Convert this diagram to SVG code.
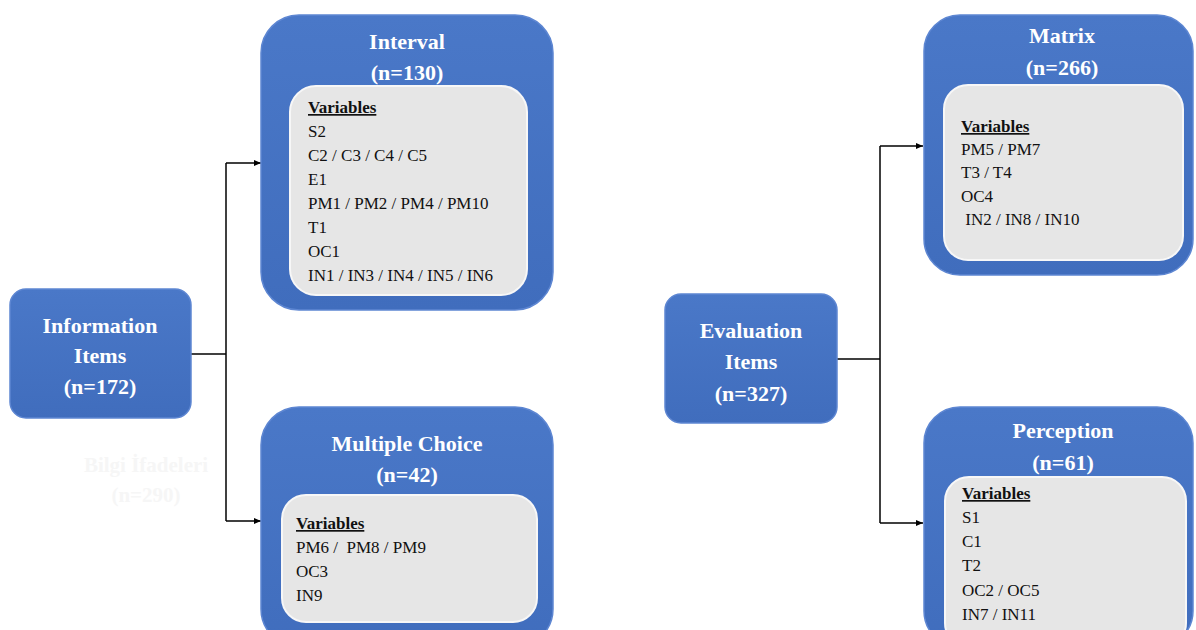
<svg xmlns="http://www.w3.org/2000/svg" width="1196" height="630" viewBox="0 0 1196 630">
  <defs>
    <marker id="arrow" markerWidth="8" markerHeight="8" refX="7" refY="4" orient="auto" markerUnits="userSpaceOnUse">
      <path d="M0,1 L7,4 L0,7 Z" fill="#000"/>
    </marker>
    <linearGradient id="blueFill" x1="0" y1="0" x2="0" y2="1">
      <stop offset="0" stop-color="#4a78c8"/>
      <stop offset="1" stop-color="#406dbd"/>
    </linearGradient>
  </defs>
  <style>
    .outer { fill: url(#blueFill); stroke: #5d86d2; stroke-width: 1.5; }
    .root { fill: url(#blueFill); stroke: #5d86d2; stroke-width: 1.5; }
    .inner { fill: #e6e6e6; stroke: #f7f7f7; stroke-width: 2; }
    .title { font-family: "Liberation Serif", "Times New Roman", serif; font-weight: bold; font-size: 22px; fill: #ffffff; text-anchor: middle; }
    .var { font-family: "Liberation Serif", "Times New Roman", serif; font-size: 17px; fill: #111111; white-space: pre; }
    .varhead { font-weight: bold; text-decoration: underline; }
    .ghost { font-family: "Liberation Serif", "Times New Roman", serif; font-weight: bold; font-size: 21px; fill: #f6f6f6; text-anchor: middle; }
    .link { fill: none; stroke: #000; stroke-width: 1.5; }
  </style>

  <rect width="1196" height="630" fill="#ffffff"/>

  <!-- connectors -->
  <g id="connectors">
    <path class="link" d="M191,354 H226"/>
    <path class="link" d="M226,163 V521"/>
    <path class="link" d="M226,163 H261" marker-end="url(#arrow)"/>
    <path class="link" d="M226,521 H261" marker-end="url(#arrow)"/>
    <path class="link" d="M837,359 H880"/>
    <path class="link" d="M880,146 V523"/>
    <path class="link" d="M880,146 H923" marker-end="url(#arrow)"/>
    <path class="link" d="M880,523 H923" marker-end="url(#arrow)"/>
  </g>

  <!-- left root -->
  <g id="information-items">
    <rect class="root" x="10" y="289" width="181" height="129" rx="16"/>
    <text class="title" x="100" y="333">Information</text>
    <text class="title" x="100" y="363">Items</text>
    <text class="title" x="100" y="394">(n=172)</text>
  </g>

  <!-- faint label under the left root -->
  <g id="bilgi-ifadeleri">
    <text class="ghost" x="146" y="472">Bilgi İfadeleri</text>
    <text class="ghost" x="146" y="502">(n=290)</text>
  </g>

  <g id="interval">
    <rect class="outer" x="261" y="15" width="292" height="295" rx="38"/>
    <rect class="inner" x="290" y="86" width="237" height="209" rx="26"/>
    <text class="title" x="407" y="49">Interval</text>
    <text class="title" x="407" y="80">(n=130)</text>
    <text class="var" x="308">
      <tspan class="varhead" x="308" y="113">Variables</tspan>
      <tspan x="308" y="137">S2</tspan>
      <tspan x="308" y="161">C2 / C3 / C4 / C5</tspan>
      <tspan x="308" y="185">E1</tspan>
      <tspan x="308" y="209">PM1 / PM2 / PM4 / PM10</tspan>
      <tspan x="308" y="233">T1</tspan>
      <tspan x="308" y="257">OC1</tspan>
      <tspan x="308" y="281">IN1 / IN3 / IN4 / IN5 / IN6</tspan>
    </text>
  </g>

  <g id="multiple-choice">
    <rect class="outer" x="261" y="407" width="292" height="240" rx="38"/>
    <rect class="inner" x="282" y="495" width="255" height="127" rx="24"/>
    <text class="title" x="407" y="451">Multiple Choice</text>
    <text class="title" x="407" y="482">(n=42)</text>
    <text class="var" x="296">
      <tspan class="varhead" x="296" y="529">Variables</tspan>
      <tspan x="296" y="553">PM6 /  PM8 / PM9</tspan>
      <tspan x="296" y="577">OC3</tspan>
      <tspan x="296" y="601">IN9</tspan>
    </text>
  </g>

  <!-- right root -->
  <g id="evaluation-items">
    <rect class="root" x="665" y="294" width="172" height="129" rx="16"/>
    <text class="title" x="751" y="338">Evaluation</text>
    <text class="title" x="751" y="369">Items</text>
    <text class="title" x="751" y="401">(n=327)</text>
  </g>

  <g id="matrix">
    <rect class="outer" x="924" y="15" width="269" height="260" rx="36"/>
    <rect class="inner" x="944" y="85" width="239" height="175" rx="24"/>
    <text class="title" x="1062" y="43">Matrix</text>
    <text class="title" x="1062" y="75">(n=266)</text>
    <text class="var" x="961">
      <tspan class="varhead" x="961" y="132">Variables</tspan>
      <tspan x="961" y="155">PM5 / PM7</tspan>
      <tspan x="961" y="178">T3 / T4</tspan>
      <tspan x="961" y="202">OC4</tspan>
      <tspan x="961" y="225"> IN2 / IN8 / IN10</tspan>
    </text>
  </g>

  <g id="perception">
    <rect class="outer" x="924" y="407" width="269" height="240" rx="36"/>
    <rect class="inner" x="945" y="477" width="241" height="170" rx="24"/>
    <text class="title" x="1063" y="438">Perception</text>
    <text class="title" x="1063" y="470">(n=61)</text>
    <text class="var" x="962">
      <tspan class="varhead" x="962" y="499">Variables</tspan>
      <tspan x="962" y="523">S1</tspan>
      <tspan x="962" y="547">C1</tspan>
      <tspan x="962" y="571">T2</tspan>
      <tspan x="962" y="596">OC2 / OC5</tspan>
      <tspan x="962" y="620">IN7 / IN11</tspan>
    </text>
  </g>
</svg>
